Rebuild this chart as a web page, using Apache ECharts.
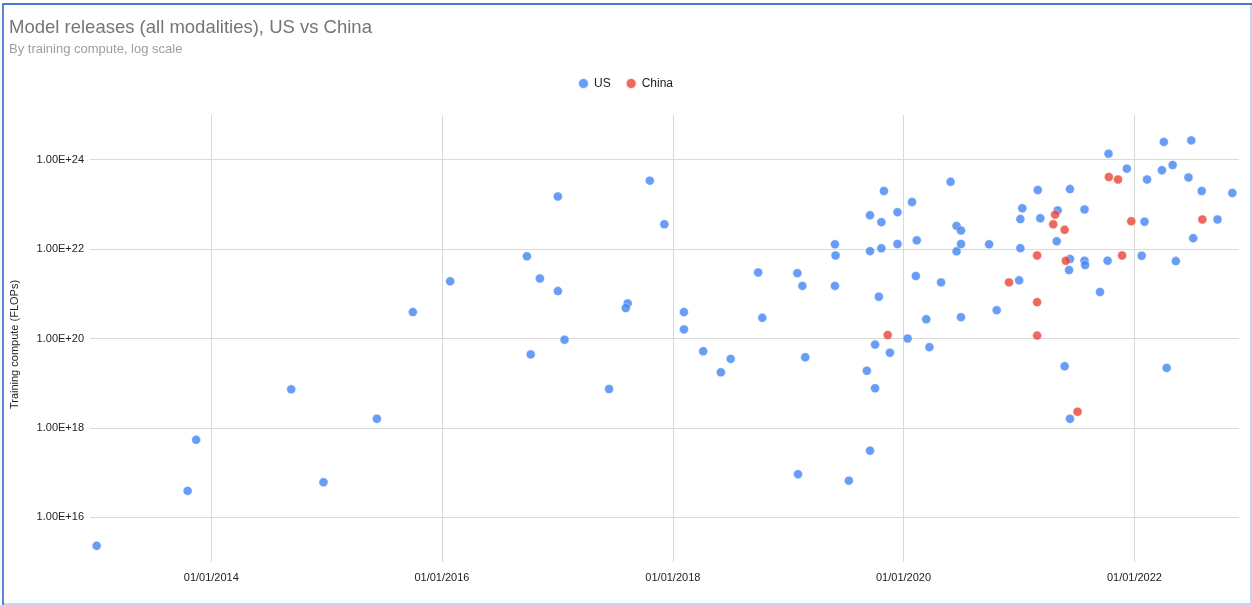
<!DOCTYPE html>
<html>
<head>
<meta charset="utf-8">
<title>Model releases (all modalities), US vs China</title>
<script src="https://cdn.jsdelivr.net/npm/echarts@6/dist/echarts.min.js"></script>
<style>
  html, body { margin: 0; padding: 0; background: #ffffff; }
  #chart { width: 1252px; height: 605px; }
</style>
</head>
<body>
<div id="chart"></div>
<script>
// Release dates and training compute (FLOPs) per model
const usDates = [
  '2013-01-03', '2013-10-18', '2013-11-14', '2014-09-11', '2014-12-22', '2015-06-09',
  '2015-10-01', '2016-01-27', '2016-09-26', '2016-11-06', '2017-01-02', '2017-01-02',
  '2017-01-23', '2016-10-08', '2017-06-13', '2017-08-11', '2017-08-05', '2017-10-20',
  '2017-12-05', '2018-02-05', '2018-02-05', '2018-04-07', '2018-06-02', '2018-07-03',
  '2018-09-28', '2018-10-11', '2019-01-30', '2019-02-15', '2019-02-24', '2019-02-01',
  '2019-05-29', '2019-05-31', '2019-05-29', '2019-07-12', '2019-09-07', '2019-09-17',
  '2019-09-17', '2019-09-17', '2019-10-03', '2019-10-03', '2019-10-15', '2019-10-23',
  '2019-10-23', '2019-10-31', '2019-11-19', '2019-12-13', '2019-12-13', '2020-01-14',
  '2020-01-28', '2020-02-09', '2020-02-12', '2020-03-13', '2020-03-23', '2020-04-29',
  '2020-05-29', '2020-06-17', '2020-06-17', '2020-07-01', '2020-07-01', '2020-07-01',
  '2020-09-28', '2020-10-22', '2021-01-01', '2021-01-05', '2021-01-05', '2021-01-11',
  '2021-03-01', '2021-03-09', '2021-04-30', '2021-05-03', '2021-05-25', '2021-06-08',
  '2021-06-11', '2021-06-11', '2021-06-11', '2021-07-27', '2021-07-27', '2021-07-29',
  '2021-09-14', '2021-10-08', '2021-10-11', '2021-12-08', '2022-01-24', '2022-02-02',
  '2022-02-10', '2022-03-29', '2022-04-04', '2022-04-13', '2022-05-02', '2022-05-12',
  '2022-06-21', '2022-06-30', '2022-07-06', '2022-08-02', '2022-09-21', '2022-11-07'
];
const usCompute = [
  2.3e15, 3.9e16, 5.4e17, 7.3e18, 6.1e16, 1.6e18,
  3.9e20, 1.9e21, 6.9e21, 2.2e21, 1.5e23, 1.15e21,
  9.4e19, 4.4e19, 7.4e18, 6.1e20, 4.8e20, 3.4e23,
  3.6e22, 3.9e20, 1.6e20, 5.2e19, 1.75e19, 3.5e19,
  3.0e21, 2.9e20, 2.9e21, 1.5e21, 3.8e19, 9.2e16,
  1.28e22, 7.2e21, 1.5e21, 6.6e16, 1.9e19, 5.7e22,
  9.0e21, 3.1e17, 7.3e19, 7.7e18, 8.6e20, 4.0e22,
  1.04e22, 2.0e23, 4.8e19, 6.7e22, 1.3e22, 1.0e20,
  1.13e23, 2.5e21, 1.57e22, 2.7e20, 6.4e19, 1.8e21,
  3.2e23, 3.3e22, 8.9e21, 2.6e22, 1.3e22, 3.0e20,
  1.28e22, 4.3e20, 2.0e21, 4.7e22, 1.05e22, 8.2e22,
  2.1e23, 4.9e22, 1.5e22, 7.3e22, 2.4e19, 3.4e21,
  2.2e23, 6.0e21, 1.6e18, 7.7e22, 5.5e21, 4.4e21,
  1.1e21, 5.5e21, 1.36e24, 6.3e23, 7.1e21, 4.1e22,
  3.6e23, 5.8e23, 2.5e24, 2.2e19, 7.6e23, 5.4e21,
  4.0e23, 2.7e24, 1.76e22, 2.0e23, 4.6e22, 1.8e23
];
const cnDates = [
  '2019-11-12', '2020-11-30', '2021-02-27', '2021-02-27', '2021-02-27', '2021-04-19',
  '2021-04-25', '2021-05-25', '2021-05-29', '2021-07-05', '2021-10-12', '2021-11-10',
  '2021-11-23', '2021-12-22', '2022-08-04'
];
const cnCompute = [
  1.2e20, 1.8e21, 7.2e21, 6.5e20, 1.16e20, 3.6e22,
  5.9e22, 2.7e22, 5.5e21, 2.3e18, 4.1e23, 3.6e23,
  7.2e21, 4.2e22, 4.6e22
];

// Axis ticks and range
const xTicks = ['2014-01-01', '2016-01-01', '2018-01-01', '2020-01-01', '2022-01-01'];
const xRange = ['2012-12-13', '2022-11-28'];
const yTicks = [1e16, 1e18, 1e20, 1e22, 1e24];

const FONT = 'Arial, "Liberation Sans", sans-serif';
const pad2 = n => (n < 10 ? '0' : '') + n;
// 'YYYY-MM-DD' -> local timestamp
const toTime = s => {
  const p = s.split('-').map(Number);
  return new Date(p[0], p[1] - 1, p[2]).getTime();
};

const chart = echarts.init(document.getElementById('chart'), null, { renderer: 'canvas' });

chart.setOption({
  animation: false,
  backgroundColor: '#ffffff',
  textStyle: { fontFamily: FONT },
  title: {
    text: 'Model releases (all modalities), US vs China',
    subtext: 'By training compute, log scale',
    left: 9,
    top: 18,
    padding: 0,
    itemGap: 6,
    textStyle: { fontFamily: FONT, fontSize: 18.5, fontWeight: 'normal', color: '#757575' },
    subtextStyle: { fontFamily: FONT, fontSize: 13, color: '#9e9e9e' }
  },
  legend: {
    data: ['US', 'China'],
    left: 577,
    top: 77,
    padding: 0,
    icon: 'circle',
    itemWidth: 11,
    itemHeight: 11,
    itemGap: 14,
    textStyle: { fontFamily: FONT, fontSize: 12, color: '#222222' }
  },
  grid: { left: 90, right: 13, top: 115, bottom: 43, containLabel: false },
  xAxis: {
    type: 'value',
    min: toTime(xRange[0]),
    max: toTime(xRange[1]),
    axisLine: { show: false },
    axisTick: { show: false, customValues: xTicks.map(toTime) },
    axisLabel: {
      customValues: xTicks.map(toTime),
      margin: 10,
      fontFamily: FONT,
      fontSize: 11,
      color: '#222222',
      formatter: v => {
        const d = new Date(v);
        return pad2(d.getDate()) + '/' + pad2(d.getMonth() + 1) + '/' + d.getFullYear();
      }
    },
    splitLine: { show: true, lineStyle: { color: '#d9d9d9', width: 1 } }
  },
  yAxis: {
    type: 'log',
    logBase: 10,
    min: 1e15,
    max: 1e25,
    name: 'Training compute (FLOPs)',
    nameLocation: 'middle',
    nameGap: 70,
    nameTextStyle: { fontFamily: FONT, fontSize: 11, color: '#222222', padding: [0, 12, 0, 0] },
    axisLine: { show: false },
    axisTick: { show: false, customValues: yTicks },
    axisLabel: {
      customValues: yTicks,
      margin: 6,
      fontFamily: FONT,
      fontSize: 11,
      color: '#222222',
      formatter: v => Number(v).toExponential(2).toUpperCase()
    },
    splitLine: { show: true, lineStyle: { color: '#d9d9d9', width: 1 } }
  },
  series: [
    {
      name: 'US',
      type: 'scatter',
      symbol: 'circle',
      symbolSize: 9,
      itemStyle: { color: '#4285f4', borderColor: '#ffffff', borderWidth: 0.5 },
      data: usDates.map((d, i) => [toTime(d), usCompute[i]])
    },
    {
      name: 'China',
      type: 'scatter',
      symbol: 'circle',
      symbolSize: 9,
      itemStyle: { color: '#ea4335', borderColor: '#ffffff', borderWidth: 0.5 },
      data: cnDates.map((d, i) => [toTime(d), cnCompute[i]])
    }
  ],
  graphic: [
    // frame around the chart
    { type: 'line', silent: true, shape: { x1: 2, y1: 4, x2: 1252, y2: 4 }, style: { stroke: '#4a7bd0', lineWidth: 2 } },
    { type: 'line', silent: true, shape: { x1: 3, y1: 3, x2: 3, y2: 605 }, style: { stroke: '#5685d6', lineWidth: 2 } },
    { type: 'line', silent: true, shape: { x1: 1251, y1: 5, x2: 1251, y2: 605 }, style: { stroke: '#c9d5ef', lineWidth: 2 } },
    { type: 'line', silent: true, shape: { x1: 4, y1: 604, x2: 1252, y2: 604 }, style: { stroke: '#c9d5ef', lineWidth: 2 } }
  ]
});
</script>
</body>
</html>
